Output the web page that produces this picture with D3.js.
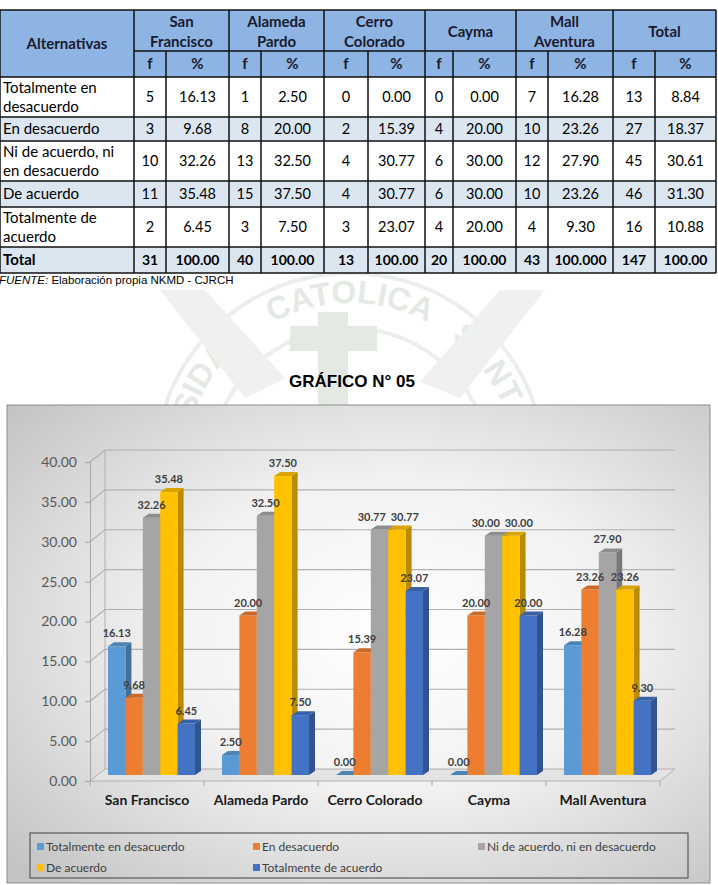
<!DOCTYPE html>
<html>
<head>
<meta charset="utf-8">
<script src="https://cdn.jsdelivr.net/npm/d3@7"></script>
<style>
  body { margin: 0; background: #fff; }
  svg { display: block; }
</style>
</head>
<body>
<div id="chart"></div>
<script>
// ---- datos ----
const places = ['San Francisco', 'Alameda Pardo', 'Cerro Colorado', 'Cayma', 'Mall Aventura']
const placeHeads = [['San', 'Francisco'], ['Alameda', 'Pardo'], ['Cerro', 'Colorado'], ['Cayma'], ['Mall', 'Aventura'], ['Total']]
const seriesNames = ['Totalmente en desacuerdo', 'En desacuerdo', 'Ni de acuerdo, ni en desacuerdo', 'De acuerdo', 'Totalmente de acuerdo']
const rowLabels = [['Totalmente en', 'desacuerdo'], ['En desacuerdo'], ['Ni de acuerdo, ni', 'en desacuerdo'], ['De acuerdo'], ['Totalmente de', 'acuerdo']]

// porcentajes por lugar (una lista por alternativa)
const totDesacuerdo = [16.13, 2.50, 0.00, 0.00, 16.28]
const enDesacuerdo = [9.68, 20.00, 15.39, 20.00, 23.26]
const niNi = [32.26, 32.50, 30.77, 30.00, 27.90]
const deAcuerdo = [35.48, 37.50, 30.77, 30.00, 23.26]
const totAcuerdo = [6.45, 7.50, 23.07, 20.00, 9.30]
const pctTotal = [8.84, 18.37, 30.61, 31.30, 10.88]

// frecuencias (lugares + total)
const freqRows = [
    [5, 1, 0, 0, 7, 13],
    [3, 8, 2, 4, 10, 27],
    [10, 13, 4, 6, 12, 45],
    [11, 15, 4, 6, 10, 46],
    [2, 3, 3, 4, 4, 16]
]
const freqTotal = [31, 40, 13, 20, 43, 147]
const pctTotalRow = ['100.00', '100.00', '100.00', '100.00', '100.000', '100.00']

const yTicks = [0, 5, 10, 15, 20, 25, 30, 35, 40]
const colors = ['#5b9bd5', '#ed7d31', '#a5a5a5', '#ffc000', '#4472c4']

const seriesValues = [totDesacuerdo, enDesacuerdo, niNi, deAcuerdo, totAcuerdo]

const fmt = d3.format('.2f')
const W = 718, H = 885

const svg = d3.select('#chart').append('svg')
    .attr('width', W)
    .attr('height', H)
const defs = svg.append('defs')

// ---- marca de agua (sello) ----
function drawWatermark() {
    const cx = 350, cy = 468, r = 165
    const wm = svg.append('g').attr('fill', '#e4e9e4').attr('stroke', 'none')
    defs.append('path').attr('id', 'sealArc')
        .attr('d', `M${cx},${cy + r} A${r},${r} 0 1 1 ${cx},${cy - r} A${r},${r} 0 1 1 ${cx},${cy + r}`)
    wm.append('circle').attr('cx', cx).attr('cy', cy).attr('r', r + 30)
        .attr('fill', 'none').attr('stroke', '#ebefeb').attr('stroke-width', 4)
    wm.append('circle').attr('cx', cx).attr('cy', cy).attr('r', r - 25)
        .attr('fill', 'none').attr('stroke', '#ebefeb').attr('stroke-width', 4)
    // solo la parte visible del texto del sello (el resto queda bajo el grafico)
    ;[['SIDAD', '39.5%', 'end'], ['CATOLICA', '50%', 'middle'], ['SANTA', '60.5%', 'start']].forEach(d => {
        wm.append('text')
            .style('font', 'bold 32px "Liberation Sans", Arial, sans-serif')
            .append('textPath')
            .attr('href', '#sealArc')
            .attr('startOffset', d[1])
            .attr('text-anchor', d[2])
            .text(d[0])
    })
    // cruz
    wm.append('rect').attr('x', 318).attr('y', 312).attr('width', 30).attr('height', 110)
    wm.append('rect').attr('x', 290).attr('y', 326).attr('width', 87).attr('height', 25)
    // bandas diagonales
    wm.append('path').attr('d', 'M160,290 L205,290 L285,378 L245,398 Z').attr('fill', '#eef1ee')
    wm.append('path').attr('d', 'M545,290 L500,290 L420,382 L460,398 Z').attr('fill', '#eef1ee')
}

// ---- tabla ----
function drawTable() {
    const colX = [0, 134, 166, 229, 261, 324, 368, 425, 453, 516, 548, 613, 655, 716]
    const rowY = [10, 51, 77, 117, 141, 181, 207, 247, 273]
    const headFill = '#8db4e2', altFill = '#dce6f1'
    const g = svg.append('g').attr('class', 'tabla')
    const font = '"Lato", "Open Sans", sans-serif'

    // fondos
    g.append('rect').attr('x', 0).attr('y', rowY[0]).attr('width', 716).attr('height', rowY[2] - rowY[0]).attr('fill', headFill)
    for (let i = 0; i < 6; i++) {
        g.append('rect').attr('x', 0).attr('y', rowY[i + 2]).attr('width', 716)
            .attr('height', rowY[i + 3] - rowY[i + 2])
            .attr('fill', i % 2 === 1 ? altFill : '#fff')
    }

    const txt = (x, y, s, opt = {}) => g.append('text')
        .attr('x', x).attr('y', y)
        .attr('text-anchor', opt.anchor || 'middle')
        .style('font-family', font)
        .style('font-size', (opt.size || 15) + 'px')
        .style('font-weight', opt.bold ? 'bold' : 'normal')
        .attr('fill', opt.color || '#000')
        .text(s)

    // encabezados
    const hd = { bold: true, color: '#1a1a2e' }
    txt(67, 49, 'Alternativas', hd)
    placeHeads.forEach((lines, i) => {
        const xm = (colX[1 + i * 2] + colX[3 + i * 2]) / 2
        if (lines.length === 2) {
            txt(xm, 27, lines[0], hd)
            txt(xm, 47, lines[1], hd)
        } else {
            txt(xm, 37, lines[0], hd)
        }
        txt((colX[1 + i * 2] + colX[2 + i * 2]) / 2, 69, 'f', hd)
        txt((colX[2 + i * 2] + colX[3 + i * 2]) / 2, 69, '%', hd)
    })

    // filas
    seriesValues.forEach((vals, r) => {
        const y0 = rowY[r + 2], y1 = rowY[r + 3], ym = (y0 + y1) / 2
        const lines = rowLabels[r]
        if (lines.length === 2) {
            txt(3, ym - 4, lines[0], { anchor: 'start' })
            txt(3, ym + 15, lines[1], { anchor: 'start' })
        } else {
            txt(3, ym + 5, lines[0], { anchor: 'start' })
        }
        const pcts = vals.concat([pctTotal[r]])
        freqRows[r].forEach((f, i) => {
            txt((colX[1 + i * 2] + colX[2 + i * 2]) / 2, ym + 5, f, { size: 14.5 })
            txt((colX[2 + i * 2] + colX[3 + i * 2]) / 2, ym + 5, fmt(pcts[i]), { size: 14.5 })
        })
    })
    const ymT = (rowY[7] + rowY[8]) / 2
    txt(3, ymT + 5, 'Total', { anchor: 'start', bold: true })
    freqTotal.forEach((f, i) => {
        txt((colX[1 + i * 2] + colX[2 + i * 2]) / 2, ymT + 5, f, { bold: true, size: 14 })
        txt((colX[2 + i * 2] + colX[3 + i * 2]) / 2, ymT + 5, pctTotalRow[i], { bold: true, size: 14 })
    })

    // lineas
    const ln = (x1, y1, x2, y2) => g.append('line')
        .attr('x1', x1).attr('y1', y1).attr('x2', x2).attr('y2', y2)
        .attr('stroke', '#111').attr('stroke-width', 1.5)
    rowY.forEach((y, i) => {
        ln(i === 1 ? colX[1] : 0, y, 716, y)
    })
    colX.forEach((x, i) => {
        const top = (i % 2 === 0 && i > 0 && i < colX.length - 1) ? rowY[1] : rowY[0]
        ln(x, top, x, rowY[8])
    })

    svg.append('text')
        .attr('x', -1).attr('y', 284)
        .style('font', '11.5px "Liberation Sans", Arial, sans-serif')
        .call(t => {
            t.append('tspan').style('font-style', 'italic').text('FUENTE:')
            t.append('tspan').text(' Elaboración propia NKMD - CJRCH')
        })
}

// ---- grafico ----
function drawChart() {
    svg.append('text')
        .attr('x', 352).attr('y', 387)
        .attr('text-anchor', 'middle')
        .style('font', 'bold 17px "Liberation Sans", Arial, sans-serif')
        .text('GRÁFICO N° 05')

    const grad = defs.append('radialGradient').attr('id', 'bgGrad')
        .attr('cx', '55%').attr('cy', '48%').attr('r', '72%')
    grad.append('stop').attr('offset', '0%').attr('stop-color', '#ffffff')
    grad.append('stop').attr('offset', '45%').attr('stop-color', '#f2f2f2')
    grad.append('stop').attr('offset', '100%').attr('stop-color', '#c4c4c4')

    svg.append('rect')
        .attr('x', 7).attr('y', 405).attr('width', 703).attr('height', 478)
        .attr('fill', 'url(#bgGrad)')
        .attr('stroke', '#8c8c8c').attr('stroke-width', 1)

    const x0 = d3.scaleBand().domain(places).range([90, 660])
    const x1 = d3.scaleBand().domain(seriesNames).range([13.5, 100.5])
    const y = d3.scaleLinear().domain([0, 40]).range([781, 462])
    const wall = { dx: 15, dy: -12 }, mid = { dx: 4.5, dy: -6 }, bd = { dx: 6, dy: -4 }
    const right = 675

    const g = svg.append('g')

    // suelo
    g.append('path')
        .attr('d', `M${x0.range()[0]},${y(0)} L${x0.range()[1]},${y(0)} L${x0.range()[1] + wall.dx},${y(0) + wall.dy} L${x0.range()[0] + wall.dx},${y(0) + wall.dy} Z`)
        .attr('fill', '#e3e3e3').attr('stroke', '#b0b0b0')

    // grilla
    g.selectAll('.grid').data(yTicks.slice(1)).enter().append('path')
        .attr('class', 'grid')
        .attr('d', d => `M90,${y(d)} L${90 + wall.dx},${y(d) + wall.dy} L${right},${y(d) + wall.dy}`)
        .attr('fill', 'none').attr('stroke', '#b0b0b0').attr('stroke-width', 1.2)
    g.append('line')
        .attr('x1', 90 + wall.dx).attr('x2', 90 + wall.dx)
        .attr('y1', y(0) + wall.dy).attr('y2', y(40) + wall.dy)
        .attr('stroke', '#b0b0b0')

    // eje y
    const yAxis = d3.axisLeft(y).tickValues(yTicks).tickFormat(fmt).tickSize(5).tickPadding(8)
    const ya = g.append('g').attr('transform', 'translate(90,0)').call(yAxis)
    ya.select('.domain').attr('stroke', '#a6a6a6')
    ya.selectAll('.tick line').attr('stroke', '#a6a6a6')
    ya.selectAll('.tick text')
        .style('font-family', '"Lato", "Open Sans", sans-serif')
        .style('font-size', '14px')
        .attr('fill', '#595959')

    // marcas de categoria
    const edges = places.map(p => x0(p)).concat([x0.range()[1]])
    g.selectAll('.cat-tick').data(edges).enter().append('line')
        .attr('x1', d => d).attr('x2', d => d)
        .attr('y1', y(0)).attr('y2', y(0) + 5)
        .attr('stroke', '#a6a6a6')

    // barras 3d
    const bars = []
    places.forEach((p, pi) => {
        seriesNames.forEach((s, si) => {
            bars.push({ p, s, si, v: seriesValues[si][pi] })
        })
    })
    const bw = x1.bandwidth()
    const bx = d => x0(d.p) + x1(d.s) + mid.dx
    const bTop = d => y(d.v) + mid.dy
    const bBase = y(0) + mid.dy

    const bg = g.selectAll('.bar').data(bars).enter().append('g').attr('class', 'bar')
    bg.append('path')
        .attr('d', d => `M${bx(d) + bw},${bTop(d)} L${bx(d) + bw + bd.dx},${bTop(d) + bd.dy} L${bx(d) + bw + bd.dx},${bBase + bd.dy} L${bx(d) + bw},${bBase} Z`)
        .attr('fill', d => d3.color(colors[d.si]).darker(0.9))
    bg.append('rect')
        .attr('x', bx).attr('y', bTop)
        .attr('width', bw).attr('height', d => bBase - bTop(d))
        .attr('fill', d => colors[d.si])
    bg.append('path')
        .attr('d', d => `M${bx(d)},${bTop(d)} L${bx(d) + bd.dx},${bTop(d) + bd.dy} L${bx(d) + bw + bd.dx},${bTop(d) + bd.dy} L${bx(d) + bw},${bTop(d)} Z`)
        .attr('fill', d => d3.color(colors[d.si]).darker(0.45))

    // etiquetas: separar las que chocan dentro de un mismo grupo
    bars.forEach(d => { d.lx = bx(d) + bw / 2; d.ly = bTop(d) - 9 })
    const lblW = 33
    places.forEach(p => {
        const ls = bars.filter(b => b.p === p)
        for (let k = 0; k < 4; k++) {
            for (let i = 0; i < ls.length - 1; i++) {
                const a = ls[i], b = ls[i + 1]
                const gap = b.lx - a.lx
                if (Math.abs(a.ly - b.ly) < 12 && gap < lblW) {
                    const push = (lblW - gap) / 2
                    a.lx -= push
                    b.lx += push
                }
            }
        }
    })
    g.selectAll('.lbl').data(bars).enter().append('text')
        .attr('x', d => d.lx)
        .attr('y', d => d.ly)
        .attr('text-anchor', 'middle')
        .style('font', 'bold 11px "Lato", "Open Sans", sans-serif')
        .attr('fill', '#404040')
        .text(d => fmt(d.v))

    // categorias
    g.selectAll('.cat').data(places).enter().append('text')
        .attr('x', d => x0(d) + x0.bandwidth() / 2)
        .attr('y', 805)
        .attr('text-anchor', 'middle')
        .style('font', 'bold 14px "Lato", "Open Sans", sans-serif')
        .attr('fill', '#1a1a1a')
        .text(d => d)

    // leyenda
    const lg = svg.append('g')
    lg.append('rect').attr('x', 30).attr('y', 833).attr('width', 658).attr('height', 45)
        .attr('fill', 'none').attr('stroke', '#595959').attr('stroke-width', 1.2)
    const lx = [37, 253, 478], ly = [851, 872]
    const items = lg.selectAll('.leg').data(seriesNames).enter().append('g')
        .attr('transform', (d, i) => `translate(${lx[i % 3]},${ly[Math.floor(i / 3)]})`)
    items.append('rect').attr('x', 0).attr('y', -8).attr('width', 7).attr('height', 7)
        .attr('fill', (d, i) => colors[i])
    items.append('text').attr('x', 9).attr('y', 0)
        .style('font', '12px "Lato", "Open Sans", sans-serif')
        .attr('fill', '#404040')
        .text(d => d)
}

drawWatermark()
drawTable()
drawChart()
</script>
</body>
</html>
